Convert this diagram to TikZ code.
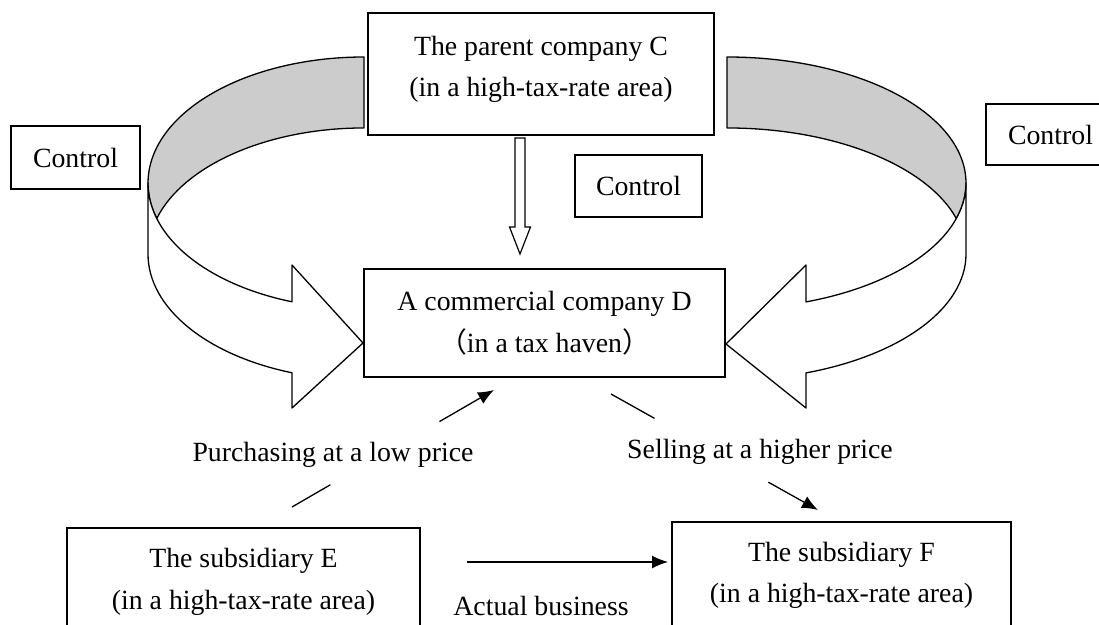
\documentclass[tikz,border=0pt]{standalone}
\usepackage{fontspec}
\setmainfont{Liberation Serif}
\newfontfamily\cjk{Noto Sans CJK SC}
\usetikzlibrary{arrows.meta, calc}

\begin{document}
\begin{tikzpicture}[x=1pt, y=1pt, line width=1.3pt,
   every node/.style={font=\fontsize{27.8pt}{41.5pt}\selectfont, inner sep=0pt, outer sep=0pt},
   box/.style={draw, align=center},
   arr/.style={-{Latex[length=16pt,width=13pt]}},
   band/.style={draw, fill=black!20, line join=round}]
   \useasboundingbox (0,0) rectangle (1099,624);
   % the two curved control bands
   \filldraw[band] (364,567) arc[start angle=90, end angle=196.36, x radius=216, y radius=126]
      arc[start angle=163.64, end angle=90, x radius=216, y radius=126] -- cycle;
   \filldraw[fill=white, line join=round] (148,441) -- (148,370)
      arc[start angle=180, end angle=250.53, x radius=216, y radius=126]
      -- (292,216) -- (363,281) -- (292,359) -- (292,322.2)
      arc[start angle=250.53, end angle=180, x radius=216, y radius=126] -- cycle;
   \filldraw[band] (727,567) arc[start angle=90, end angle=-16.36, x radius=239, y radius=126]
      arc[start angle=16.36, end angle=90, x radius=239, y radius=126] -- cycle;
   \filldraw[fill=white, line join=round] (966,441) -- (966,370)
      arc[start angle=0, end angle=-70.7, x radius=239, y radius=126]
      -- (806,216) -- (726,280) -- (806,359) -- (806,322.1)
      arc[start angle=-70.7, end angle=0, x radius=239, y radius=126] -- cycle;
   % boxes
   \node[box, minimum width=346pt, minimum height=122pt, text depth=15pt] (C) at (541,550)
      {The parent company C\\(in a high-tax-rate area)};
   \node[box, minimum width=361pt, minimum height=108pt] (D) at (544.5,301)
      {A commercial company D\\{\cjk （}in a tax haven{\cjk ）}};
   \node[box, minimum width=353pt, minimum height=108pt] (E) at (243.5,42)
      {The subsidiary E\\(in a high-tax-rate area)};
   \node[box, minimum width=339pt, minimum height=107pt] (F) at (841.5,48.5)
      {The subsidiary F\\(in a high-tax-rate area)};
   \node[box, minimum width=129pt, minimum height=63pt] (ctlL) at (75.5,466.5) {Control};
   \node[box, minimum width=127pt, minimum height=62pt] (ctlM) at (638.5,438) {Control};
   \node[box, minimum width=129pt, minimum height=61pt] (ctlR) at (1050.5,489.5) {Control};
   % hollow arrow C -> D
   \draw[line width=1.2pt] (515,486) -- (515,397) -- (509.5,397) -- (520,370)
      -- (530.5,397) -- (525,397) -- (525,486) -- cycle;
   % trade flows
   \coordinate (b1) at (292,117);
   \coordinate (b2) at (494,234);
   \draw (b1) -- ($(b1)!0.19!(b2)$);
   \draw[arr] ($(b1)!0.73!(b2)$) -- (b2);
   \coordinate (s1) at (611,230);
   \coordinate (s2) at (818,114);
   \draw (s1) -- ($(s1)!0.21!(s2)$);
   \draw[arr] ($(s1)!0.76!(s2)$) -- (s2);
   \coordinate (a1) at (467,62);
   \draw[arr, shorten >=4pt] (a1) -- (a1 -| F.west);
   \node (buy) at (333,169) {Purchasing at a low price};
   \node (sell) at (760,172) {Selling at a higher price};
   \node (act) at (541,18) {Actual business};
\end{tikzpicture}
\end{document}
